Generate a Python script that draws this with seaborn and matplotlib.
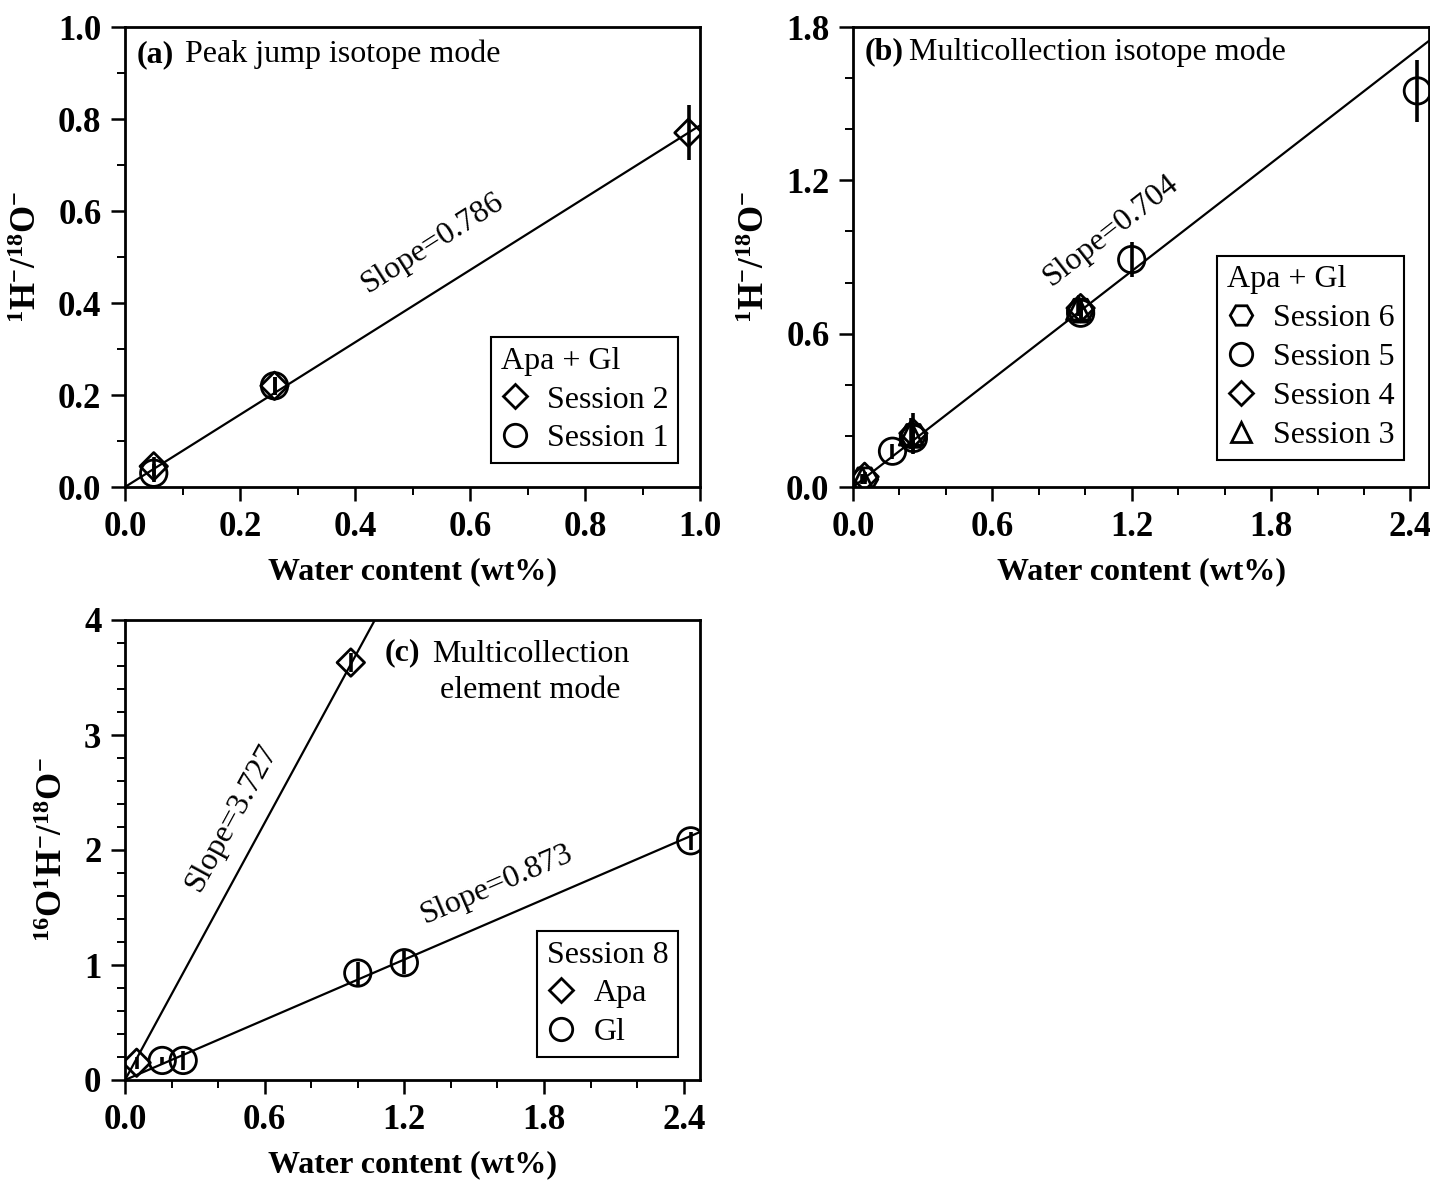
import numpy as np
import matplotlib
matplotlib.use("Agg")
import matplotlib.pyplot as plt
from matplotlib.lines import Line2D
from matplotlib.ticker import MultipleLocator
import seaborn as sns

# ---------------- data ----------------
# Panel (a) Peak jump isotope mode
a_s2_x = [0.05, 0.26, 0.98]
a_s2_y = [0.045, 0.22, 0.77]
a_s2_err = [0.02, 0.02, 0.06]
a_s1_x = [0.05, 0.26]
a_s1_y = [0.03, 0.22]
a_s1_err = [0.02, 0.02]
slope_a = 0.786

# Panel (b) Multicollection isotope mode
b_s6_x = [0.05, 0.26, 0.98]
b_s6_y = [0.03, 0.20, 0.69]
b_s6_err = [0.02, 0.05, 0.03]
b_s5_x = [0.17, 0.26, 0.98, 1.20, 2.43]
b_s5_y = [0.14, 0.19, 0.68, 0.89, 1.55]
b_s5_err = [0.03, 0.05, 0.03, 0.07, 0.12]
b_s4_x = [0.05, 0.26, 0.98]
b_s4_y = [0.04, 0.21, 0.70]
b_s4_err = [0.02, 0.08, 0.03]
b_s3_x = [0.04, 0.25, 0.97]
b_s3_y = [0.03, 0.21, 0.70]
b_s3_err = [0.02, 0.06, 0.03]
slope_b = 0.704

# Panel (c) Multicollection element mode
c_apa_x = [0.05, 0.97]
c_apa_y = [0.15, 3.63]
c_apa_err = [0.05, 0.08]
c_gl_x = [0.16, 0.25, 1.00, 1.20, 2.43]
c_gl_y = [0.17, 0.17, 0.93, 1.02, 2.08]
c_gl_err = [0.03, 0.08, 0.10, 0.10, 0.08]
slope_c_apa = 3.727
slope_c_gl = 0.873

# ---------------- style ----------------
sns.set_theme(style="ticks")
plt.rcParams["font.family"] = ["Liberation Serif", "DejaVu Serif"]
plt.rcParams["mathtext.fontset"] = "custom"
plt.rcParams["mathtext.rm"] = "Liberation Serif"
plt.rcParams["mathtext.bf"] = "Liberation Serif:bold"
plt.rcParams["mathtext.it"] = "Liberation Serif:italic"
for key in ["text.color", "axes.labelcolor", "xtick.color", "ytick.color",
            "xtick.labelcolor", "ytick.labelcolor", "axes.edgecolor",
            "legend.labelcolor"]:
    plt.rcParams[key] = "black"

FS = 23
TFS = 25
YFS = 25
W, H = 1430, 1184
fig = plt.figure(figsize=(W / 100, H / 100), dpi=100)
fig.patch.set_facecolor("white")


def px_axes(l, t, r, b):
    return fig.add_axes([l / W, 1 - b / H, (r - l) / W, (b - t) / H])


ax_a = px_axes(125, 27, 700, 487)
ax_b = px_axes(853, 27, 1429, 487)
ax_c = px_axes(125, 620, 700, 1080)

MARK = {"D": 14, "o": 19, "H": 19, "^": 17}


def series(ax, x, y, err, marker):
    ax.errorbar(x, y, yerr=err, fmt="none", ecolor="black", elinewidth=2.6,
                capsize=0, zorder=2)
    sns.scatterplot(x=x, y=y, marker=marker, s=MARK[marker] ** 2, color="black",
                    linewidth=2, ax=ax, legend=False, zorder=3)
    coll = ax.collections[-1]
    coll.set_facecolor("none")
    coll.set_edgecolor("black")
    coll.set_linewidth(2)


def fit(ax, slope, xmax):
    xs = np.array([0.0, xmax])
    sns.lineplot(x=xs, y=slope * xs, color="black", linewidth=1.6, ax=ax,
                 zorder=1)


def style_axes(ax, xlim, ylim, xmaj, xmin, ymaj, ymin, xfmt, yfmt, ylabel):
    ax.set_xlim(*xlim)
    ax.set_ylim(*ylim)
    ax.xaxis.set_major_locator(MultipleLocator(xmaj))
    ax.xaxis.set_minor_locator(MultipleLocator(xmin))
    ax.yaxis.set_major_locator(MultipleLocator(ymaj))
    ax.yaxis.set_minor_locator(MultipleLocator(ymin))
    ax.xaxis.set_major_formatter(plt.FuncFormatter(lambda v, p: xfmt.format(v)))
    ax.yaxis.set_major_formatter(plt.FuncFormatter(lambda v, p: yfmt.format(v)))
    ax.tick_params(which="major", direction="out", length=10, width=1.8,
                   labelsize=TFS, pad=7, top=False, right=False,
                   color="black", labelcolor="black")
    ax.tick_params(which="minor", direction="out", length=6, width=1.4,
                   top=False, right=False, color="black")
    for lab in ax.get_xticklabels() + ax.get_yticklabels():
        lab.set_fontweight("bold")
    for sp in ax.spines.values():
        sp.set_visible(True)
        sp.set_linewidth(2)
        sp.set_color("black")
    ax.set_xlabel("Water content (wt%)", fontsize=FS, fontweight="bold",
                  labelpad=10, color="black")
    ax.set_ylabel(ylabel, fontsize=YFS, labelpad=10, color="black")
    ax.set_facecolor("white")
    ax.grid(False)


def make_legend(ax, title, entries, anchor):
    handles = [Line2D([], [], marker=m, ls="none", mfc="none", mec="black",
                      mew=2, ms=MARK[m] * 0.85) for m, _ in entries]
    labels = [lab for _, lab in entries]
    leg = ax.legend(handles, labels, title=title, loc="lower right",
                    bbox_to_anchor=anchor, borderaxespad=0, fontsize=FS,
                    title_fontsize=FS, frameon=True, fancybox=False,
                    framealpha=1, edgecolor="black", handletextpad=0.55,
                    labelspacing=0.3, handlelength=0.9, borderpad=0.3,
                    alignment="left")
    leg.get_frame().set_linewidth(1.5)
    leg.get_title().set_color("black")
    return leg


# ---------------- panel (a) ----------------
series(ax_a, a_s2_x, a_s2_y, a_s2_err, "D")
series(ax_a, a_s1_x, a_s1_y, a_s1_err, "o")
fit(ax_a, slope_a, 1.0)
style_axes(ax_a, (0, 1.0), (0, 1.0), 0.2, 0.1, 0.2, 0.1, "{:.1f}", "{:.1f}",
           r"$\mathbf{^{1}H^{-}/^{18}O^{-}}$")
ax_a.text(0.021, 0.940, "(a)", transform=ax_a.transAxes, fontsize=FS,
          fontweight="bold", va="center", ha="left")
ax_a.text(0.104, 0.940, "Peak jump isotope mode", transform=ax_a.transAxes,
          fontsize=FS, va="center", ha="left")
ax_a.text(0.535, 0.53, f"Slope={slope_a}", fontsize=FS, rotation=32.5,
          ha="center", va="center", rotation_mode="anchor")
make_legend(ax_a, "Apa + Gl", [("D", "Session 2"), ("o", "Session 1")],
            (0.962, 0.052))

# ---------------- panel (b) ----------------
series(ax_b, b_s3_x, b_s3_y, b_s3_err, "^")
series(ax_b, b_s4_x, b_s4_y, b_s4_err, "D")
series(ax_b, b_s5_x, b_s5_y, b_s5_err, "o")
series(ax_b, b_s6_x, b_s6_y, b_s6_err, "H")
fit(ax_b, slope_b, 2.48)
style_axes(ax_b, (0, 2.48), (0, 1.8), 0.6, 0.2, 0.6, 0.2, "{:.1f}", "{:.1f}",
           r"$\mathbf{^{1}H^{-}/^{18}O^{-}}$")
ax_b.text(0.021, 0.946, "(b)", transform=ax_b.transAxes, fontsize=FS,
          fontweight="bold", va="center", ha="left")
ax_b.text(0.098, 0.946, "Multicollection isotope mode", transform=ax_b.transAxes,
          fontsize=FS, va="center", ha="left")
ax_b.text(1.11, 1.005, f"Slope={slope_b}", fontsize=FS, rotation=38,
          ha="center", va="center", rotation_mode="anchor")
make_legend(ax_b, "Apa + Gl",
            [("H", "Session 6"), ("o", "Session 5"), ("D", "Session 4"),
             ("^", "Session 3")], (0.957, 0.059))

# ---------------- panel (c) ----------------
series(ax_c, c_apa_x, c_apa_y, c_apa_err, "D")
series(ax_c, c_gl_x, c_gl_y, c_gl_err, "o")
fit(ax_c, slope_c_apa, 4.0 / slope_c_apa + 0.05)
fit(ax_c, slope_c_gl, 2.47)
style_axes(ax_c, (0, 2.47), (0, 4), 0.6, 0.2, 1, 0.2, "{:.1f}", "{:.0f}",
           r"$\mathbf{^{16}O^{1}H^{-}/^{18}O^{-}}$")
ax_c.text(0.452, 0.928, "(c)", transform=ax_c.transAxes, fontsize=FS,
          fontweight="bold", va="center", ha="left")
ax_c.text(0.705, 0.886, "Multicollection\nelement mode", transform=ax_c.transAxes,
          fontsize=FS, va="center", ha="center", multialignment="center",
          linespacing=1.3)
ax_c.text(0.46, 2.28, f"Slope={slope_c_apa}", fontsize=FS, rotation=61.5,
          ha="center", va="center", rotation_mode="anchor")
ax_c.text(1.60, 1.70, f"Slope={slope_c_gl}", fontsize=FS, rotation=23.3,
          ha="center", va="center", rotation_mode="anchor")
make_legend(ax_c, "Session 8", [("D", "Apa"), ("o", "Gl")], (0.962, 0.05))

fig.savefig("out.png", dpi=100, facecolor="white")
